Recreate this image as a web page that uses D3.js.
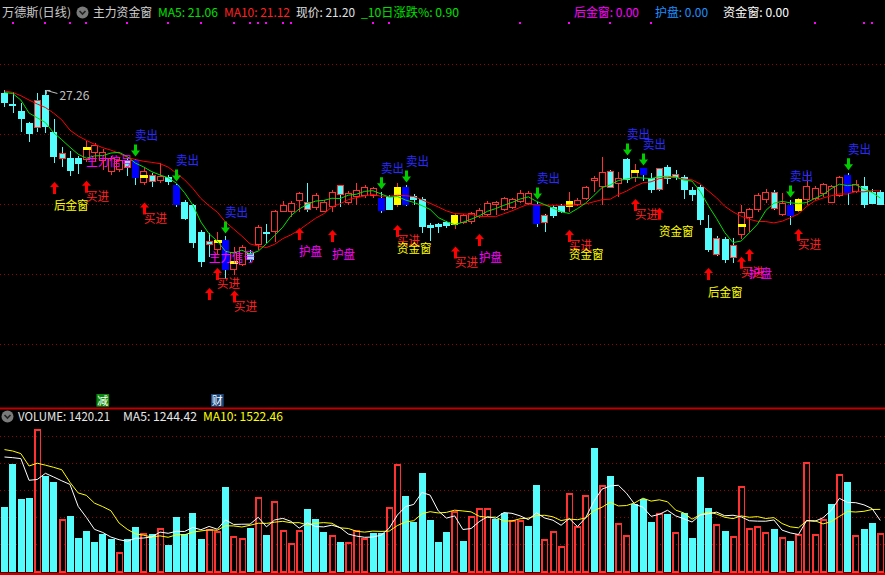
<!DOCTYPE html>
<html><head><meta charset="utf-8">
<script src="https://cdn.jsdelivr.net/npm/d3@7"></script>
<style>
html,body{margin:0;padding:0;background:#000;overflow:hidden}
svg{display:block}
text{font-family:"Noto Sans CJK SC","Noto Sans",sans-serif}
</style></head><body>
<svg id="chart" width="885" height="575"></svg>
<script>
// ---------- DATA ----------
const opens  = [27.11,26.52,26.19,25.55,26.75,27.02,25.07,23.62,23.69,23.69,
23.57,23.94,23.51,22.93,23.03,23.57,23.57,22.34,22.77,22.45,
22.66,22.24,21.35,21.17,19.75,19.05,18.78,19.31,17.72,17.98,
18.62,19.05,19.74,19.75,20.82,20.82,21.35,21.35,21.01,20.82,
21.08,22.24,21.28,21.61,21.61,21.61,21.53,21.61,21.17,22.15,
21.65,21.48,20.11,20.16,20.27,20.11,20.20,20.23,20.55,20.64,
21.17,20.91,21.00,21.35,21.23,21.23,20.20,21.08,21.12,21.08,
21.17,21.48,22.41,22.15,23.00,22.29,23.60,22.61,23.12,22.59,
21.97,23.21,22.59,22.68,21.97,22.11,19.93,18.51,19.35,18.34,
19.58,20.46,20.91,21.44,21.88,20.64,21.17,20.82,21.44,21.48,
21.76,21.30,21.65,22.77,21.88,22.18,21.88,21.88];
const highs  = [27.29,27.20,26.58,25.60,27.11,27.26,25.74,24.27,24.04,23.78,
24.57,24.47,24.15,23.78,23.72,23.67,23.62,23.14,22.87,23.41,
22.77,22.29,21.44,21.23,19.84,19.67,19.75,19.52,18.94,19.05,
18.78,20.11,20.16,20.91,21.40,21.39,21.88,22.36,21.81,21.44,
21.97,22.24,21.93,22.33,22.24,22.13,21.88,21.71,22.36,22.24,
21.76,21.60,20.23,20.22,20.32,20.69,20.69,20.80,21.01,21.39,
21.39,21.60,21.55,21.97,21.92,21.33,20.69,21.17,21.23,21.88,
21.55,22.18,22.71,23.74,23.03,22.94,23.67,23.35,23.14,22.86,
23.14,23.30,23.03,22.77,22.15,22.24,20.64,19.52,19.47,19.40,
21.17,21.01,21.81,22.01,21.97,21.79,21.44,21.55,22.94,22.18,
22.34,22.24,22.71,22.89,22.50,22.66,22.02,21.97];
const lows   = [26.36,26.05,25.07,24.54,25.05,25.00,23.39,23.21,22.73,22.80,
23.47,23.46,23.03,22.77,22.93,22.73,22.24,22.24,22.13,22.34,
22.24,21.07,20.37,18.87,17.89,18.42,18.51,17.22,17.45,17.93,
18.14,18.78,19.17,19.22,20.80,20.52,20.82,20.82,20.91,20.80,
20.82,21.08,21.17,21.17,21.53,21.54,20.73,20.91,21.08,21.12,
21.17,19.67,19.28,19.68,19.95,19.88,20.16,20.16,20.48,20.59,
20.64,20.85,20.96,21.26,21.17,19.99,19.75,20.48,20.75,20.82,
21.12,21.44,21.88,21.17,22.08,21.58,22.36,22.41,22.46,21.83,
21.94,22.29,22.50,21.48,21.40,20.11,18.68,18.48,18.07,18.07,
19.35,19.75,20.80,21.26,20.91,20.60,20.11,20.80,21.17,21.44,
21.61,21.28,21.60,21.17,21.81,21.00,21.23,21.17];
const closes = [26.58,26.44,25.78,24.98,25.25,25.32,23.74,23.92,22.98,23.39,
24.26,24.36,23.99,23.67,23.57,23.14,22.61,22.98,22.40,22.71,
22.40,21.17,20.46,19.14,18.16,19.26,19.26,17.72,18.67,18.94,
18.25,20.02,19.66,20.87,21.17,21.30,21.80,20.91,21.71,21.35,
21.88,21.71,21.81,21.97,22.11,22.06,20.85,20.94,22.15,21.17,
21.44,19.99,19.93,20.00,20.06,20.64,20.64,20.73,20.91,21.26,
21.35,21.53,21.48,21.83,21.83,20.16,20.64,20.59,20.82,21.40,
21.44,22.11,22.59,22.94,22.11,22.61,22.50,23.03,22.77,21.97,
23.12,22.59,22.82,21.97,21.71,20.38,18.78,19.40,18.25,19.05,
20.80,20.96,21.71,21.86,21.00,21.28,20.59,21.48,22.18,22.06,
22.29,22.18,22.68,21.79,22.29,21.17,21.26,21.20];
const priorCloses = [27.20,27.50,27.30,27.35,27.20,26.69,27.53,28.43,26.52];

const volumes = [1681,2805,1888,1914,3725,2486,2330,1387,1447,875,
1057,771,987,849,530,849,1161,1023,997,1153,
694,1421,997,1525,849,1127,1057,2200,945,875,
1135,1958,953,1836,1083,745,1083,1629,1369,1031,
971,771,790,1101,875,1005,1005,1699,2816,1966,
1291,2564,1343,771,1031,1577,797,1465,1673,1673,
1369,1543,1361,1343,1187,2252,868,1075,686,2062,
1205,2010,3213,2270,2486,1283,971,1777,1906,1291,
1543,1499,1049,1525,875,2460,1655,1257,1057,945,
2244,1153,1205,1049,1109,919,797,997,2868,997,
1387,1758,2556,2330,971,1109,1265,1023];
const volUp = [0,0,0,0,1,0,0,1,0,0, 0,0,0,0,1,0,0,1,0,1, 0,0,0,0,0,1,1,0,1,1,
0,1,0,1,1,1,1,0,0,0, 1,0,1,1,1,0,0,1,1,0, 0,0,0,0,0,1,0,1,1,1,
0,0,1,1,0,0,1,1,1,1, 1,1,0,1,0,1,1,0,0,0, 1,0,1,0,0,0,0,1,0,1,
1,1,1,1,0,1,0,1,1,1, 1,0,1,0,1,0,0,1];
const priorVolumes = [3165,2568,5134,3000,2988,2890,2013,4729,3622];

// indicator overlays
const blueBars   = [16,21,27,46,49,65,78,96,103];
const yellowBars = [48,55,69,97];
const cyanBars   = [4,7,15,18,25,37,41,66,74,80,82,87,89,94];
const dashIdx    = [10,17,26,28,77,90];
const dashPrice  = [24.18,22.71,19.27,18.16,22.98,20.11];

const buyIdx   = [6,10,17,25,26,28,36,40,48,55,58,69,77,80,86,90,91,97];
const buyTip   = [22.40,22.46,21.30,16.76,17.82,16.62,19.95,19.84,20.11,18.96,19.63,19.84,21.49,21.03,17.82,18.42,18.83,19.90];
const buyText1 = ['','买进','买进','','买进','买进','','','买进','买进','','买进','买进','','','买进','','买进'];
const buyText2 = ['后金窗','','','','','','护盘','护盘','资金窗','','护盘','资金窗','','资金窗','后金窗','','护盘',''];
const sellIdx  = [16,21,27,46,49,65,76,78,96,103];
const signalIdx   = [10,25];
const signalPrice = [23.25,18.14];
const topDots = [1,5,8,10,15,20,24,28,30,31,32,34,35,45,47,63,69,74,79,99,105,106];
const markIdx = [12,26];
const markText = ['减','财'];
const peakLabel = '27.26';

// ---------- SETUP ----------
const N = closes.length;
const svg = d3.select('#chart');
svg.append('rect').attr('width',885).attr('height',575).attr('fill','#000');

const x = d3.scaleBand().domain(d3.range(N)).range([0.4,884.4]).paddingInner(0.2).paddingOuter(0.1);
const bw = x.bandwidth();
const cx = i => x(i) + bw/2;
const yP = d3.scaleLinear().domain([10.38,30.58]).range([408,28]);
const yV = d3.scaleLinear().domain([0,4000]).range([572,418]);

const RED='#ff3232', CYAN='#54fcfc';

function ma(arr, prior, n){
  const all = prior.concat(arr);
  return arr.map((_,i)=>{const k=i+prior.length; return d3.mean(all.slice(k-n+1,k+1));});
}

// ---------- GRID / FRAME ----------
const grid = svg.append('g').attr('stroke','#a00000').attr('stroke-dasharray','1,3').attr('shape-rendering','crispEdges');
[64.5,134.5,204.5,274.5,344.5,436.5,463.5,490.5,517.5,544.5].forEach(g=>{
  grid.append('line').attr('x1',0).attr('x2',885).attr('y1',g).attr('y2',g);
});
svg.append('rect').attr('x',0).attr('y',407.5).attr('width',885).attr('height',2).attr('fill','#c00000');
svg.append('rect').attr('x',0).attr('y',572.5).attr('width',885).attr('height',2.5).attr('fill','#c00000');

// ---------- HEADER ----------
const hdr = [
 {t:'万德斯(日线)',x:2,w:69,c:'#c8c8c8'},
 {t:'主力资金窗',x:93,w:59,c:'#d0d0d0'},
 {t:'MA5: 21.06',x:158,w:60,c:'#00e000'},
 {t:'MA10: 21.12',x:224,w:66,c:'#ff2020'},
 {t:'现价: 21.20',x:296,w:59,c:'#e0e0e0'},
 {t:'_10日涨跌%: 0.90',x:361,w:98,c:'#00e000'},
 {t:'后金窗: 0.00',x:574,w:65,c:'#ff00ff'},
 {t:'护盘: 0.00',x:655,w:53,c:'#1e90ff'},
 {t:'资金窗: 0.00',x:723,w:66,c:'#ffffff'}
];
hdr.forEach(h=>svg.append('text').attr('x',h.x).attr('y',17).attr('font-size',12)
  .attr('fill',h.c).attr('textLength',h.w).attr('lengthAdjust','spacingAndGlyphs').text(h.t));
function icon(cxp,cyp){
  svg.append('circle').attr('cx',cxp).attr('cy',cyp).attr('r',6).attr('fill','#7a7a7a');
  svg.append('path').attr('d',`M${cxp-3},${cyp-1.5} L${cxp},${cyp+1.5} L${cxp+3},${cyp-1.5}`)
    .attr('stroke','#222').attr('stroke-width',1.6).attr('fill','none');
}
icon(82.5,12.5);
svg.append('g').selectAll('rect').data(topDots).join('rect')
  .attr('x',i=>Math.round(cx(i))-1).attr('y',22).attr('width',2).attr('height',2).attr('fill','#ff00ff');

// ---------- CANDLES ----------
const gc = svg.append('g').attr('shape-rendering','crispEdges');
d3.range(N).forEach(i=>{
  const o=opens[i], c=closes[i], up=c>=o;
  let fill, stroke, wick;
  if (blueBars.includes(i)) { fill='#0000ff'; stroke='none'; wick=up?RED:CYAN; }
  else if (yellowBars.includes(i)) { fill='#ffff00'; stroke='none'; wick=RED; }
  else if (cyanBars.includes(i)) { fill=CYAN; stroke=RED; wick=CYAN; }
  else if (up) { fill='#000'; stroke=RED; wick=RED; }
  else { fill=CYAN; stroke='none'; wick=CYAN; }
  const xc = Math.round(cx(i))+0.5;
  gc.append('line').attr('x1',xc).attr('x2',xc).attr('y1',yP(highs[i])).attr('y2',yP(lows[i])).attr('stroke',wick);
  const yt = yP(Math.max(o,c)), yb = yP(Math.min(o,c));
  const bx = Math.round(x(i));
  const r = gc.append('rect').attr('fill',fill);
  if (stroke!=='none') {
    r.attr('x',bx+0.5).attr('y',Math.round(yt)+0.5).attr('width',Math.round(bw)-1)
     .attr('height',Math.max(1,Math.round(yb-yt)-1)).attr('stroke',stroke);
  } else {
    r.attr('x',bx).attr('y',Math.round(yt)).attr('width',Math.round(bw)).attr('height',Math.max(1,Math.round(yb-yt)));
  }
});
dashIdx.forEach((i,k)=>{
  gc.append('rect').attr('x',Math.round(x(i))-0.5).attr('y',Math.round(yP(dashPrice[k]))-1)
    .attr('width',Math.round(bw)+1).attr('height',2.5).attr('fill','#ffff00');
});

// MA lines
const ma5 = ma(closes, priorCloses, 5), ma10 = ma(closes, priorCloses, 10);
const lineP = d3.line().x((d,i)=>cx(i)).y(d=>yP(d));
svg.append('path').attr('d',lineP(ma10)).attr('fill','none').attr('stroke','#ff0000').attr('stroke-width',1);
svg.append('path').attr('d',lineP(ma5)).attr('fill','none').attr('stroke','#00e000').attr('stroke-width',1);

// peak label
const pkx = cx(5), pky = yP(highs[5]);
svg.append('path').attr('d',`M${pkx+12},${pky+3} L${pkx+1},${pky} M${pkx+1},${pky} L${pkx+1},${pky+4} M${pkx+1},${pky} L${pkx+5},${pky}`)
  .attr('stroke','#c0c0c0').attr('fill','none');
svg.append('text').attr('x',pkx+14).attr('y',pky+10).attr('font-size',12).attr('fill','#c0c0c0')
  .attr('textLength',30).attr('lengthAdjust','spacingAndGlyphs').text(peakLabel);

// ---------- SIGNALS ----------
const gs = svg.append('g');
function upArrow(c,t){return `M${c},${t} L${c+4.5},${t+5} L${c+1.5},${t+5} L${c+1.5},${t+12} L${c-1.5},${t+12} L${c-1.5},${t+5} L${c-4.5},${t+5} Z`;}
function downArrow(c,t){return `M${c},${t} L${c+4.5},${t-6} L${c+1.5},${t-6} L${c+1.5},${t-12} L${c-1.5},${t-12} L${c-1.5},${t-6} L${c-4.5},${t-6} Z`;}
const lblColor = {'买进':'#ff2020','护盘':'#ff00ff','资金窗':'#ffff00','后金窗':'#ffff00'};
buyIdx.forEach((i,k)=>{
  const c = Math.round(cx(i))+0.5, t = yP(buyTip[k]);
  gs.append('path').attr('d',upArrow(c,t)).attr('fill','#ff0000');
  [[buyText1[k],20],[buyText2[k],28.5]].forEach(([s,off])=>{
    if(!s) return;
    gs.append('text').attr('x',c-0.5).attr('y',t+off).attr('font-size',12).attr('fill',lblColor[s])
      .attr('textLength',s.length*11.5).attr('lengthAdjust','spacingAndGlyphs').text(s);
  });
});
sellIdx.forEach(i=>{
  const c = Math.round(cx(i))+0.5, t = yP(highs[i])-2.5;
  gs.append('path').attr('d',downArrow(c,t)).attr('fill','#00cc00');
  gs.append('text').attr('x',c-0.5).attr('y',t-16.5).attr('font-size',12).attr('fill','#2a2aff')
    .attr('textLength',23).attr('lengthAdjust','spacingAndGlyphs').text('卖出');
});
signalIdx.forEach((i,k)=>{
  gs.append('text').attr('x',cx(i)).attr('y',yP(signalPrice[k])).attr('font-size',12).attr('fill','#ff00ff')
    .attr('textLength',46).attr('lengthAdjust','spacingAndGlyphs').text('主力信号');
});
markIdx.forEach((i,k)=>{
  const c = cx(i);
  svg.append('rect').attr('x',c-6.3).attr('y',394).attr('width',12.7).attr('height',12.7)
    .attr('fill',k===0?'#0a8a0a':'#1a4a80');
  svg.append('text').attr('x',c).attr('y',404.5).attr('text-anchor','middle').attr('font-size',11)
    .attr('fill','#ffffff').text(markText[k]);
});

// ---------- VOLUME ----------
const gv = svg.append('g').attr('shape-rendering','crispEdges');
d3.range(N).forEach(i=>{
  const bx = Math.round(x(i)), top = Math.round(yV(volumes[i]));
  if (volUp[i]) {
    gv.append('rect').attr('x',bx+0.75).attr('y',top+0.75).attr('width',Math.round(bw)-1.5)
      .attr('height',572-top-0.75).attr('fill','none').attr('stroke',RED).attr('stroke-width',1.5);
  } else {
    gv.append('rect').attr('x',bx).attr('y',top).attr('width',Math.round(bw)).attr('height',572-top).attr('fill',CYAN);
  }
});
const vma5 = ma(volumes, priorVolumes, 5), vma10 = ma(volumes, priorVolumes, 10);
const lineV = d3.line().x((d,i)=>cx(i)).y(d=>yV(d));
svg.append('path').attr('d',lineV(vma10)).attr('fill','none').attr('stroke','#ffff00').attr('stroke-width',1);
svg.append('path').attr('d',lineV(vma5)).attr('fill','none').attr('stroke','#ffffff').attr('stroke-width',1);

icon(7.5,416.5);
[{t:'VOLUME: 1420.21',x:18,w:92,c:'#e8e8e8'},{t:'MA5: 1244.42',x:123,w:74,c:'#e8e8e8'},{t:'MA10: 1522.46',x:203,w:80,c:'#ffff00'}]
 .forEach(h=>svg.append('text').attr('x',h.x).attr('y',421).attr('font-size',12).attr('fill',h.c)
   .attr('textLength',h.w).attr('lengthAdjust','spacingAndGlyphs').text(h.t));
</script></body></html>
